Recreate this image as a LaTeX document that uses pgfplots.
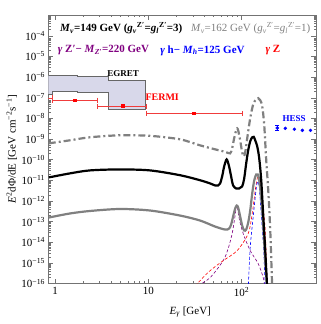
\documentclass[border=0pt]{standalone}
\usepackage{fontspec}
\setmainfont{Liberation Serif}
\usepackage{pgfplots}
\pgfplotsset{compat=1.18}
\definecolor{egret}{RGB}{216,216,234}
\definecolor{zpur}{RGB}{128,0,128}
\definecolor{fermi}{RGB}{240,60,60}
\begin{document}
\begin{tikzpicture}
\begin{axis}[
  at={(0pt,0pt)}, anchor=south west,
  scale only axis, width=267.5pt, height=268.5pt,
  xmode=log, ymode=log,
  xmin=0.85, xmax=630, ymin=1e-16, ymax=1e-3,
  xtickten={0,1,2}, xticklabels={1,10,10\textsuperscript{2}},
  ytickten={-16,-15,-14,-13,-12,-11,-10,-9,-8,-7,-6,-5,-4,-3},
  yticklabels={10\textsuperscript{−16},10\textsuperscript{−15},10\textsuperscript{−14},10\textsuperscript{−13},10\textsuperscript{−12},10\textsuperscript{−11},10\textsuperscript{−10},10\textsuperscript{−9},10\textsuperscript{−8},10\textsuperscript{−7},10\textsuperscript{−6},10\textsuperscript{−5},10\textsuperscript{−4},{}},
  tick label style={font=\fontsize{11}{12}\selectfont, black},
  axis line style={black!55},
  tick style={black!55},
  major tick length=5pt, minor tick length=2.5pt,
  xlabel={\textit{E}\textsubscript{\textit{γ}} [GeV]},
  ylabel={\textit{E}\textsuperscript{2}dΦ/dE [GeV cm\textsuperscript{−2}s\textsuperscript{−1}]},
  label style={font=\fontsize{11}{12}\selectfont},
  xlabel style={at={(axis description cs:0.53,-0.106)},anchor=center},
  ylabel style={at={(axis description cs:-0.137,0.5)},anchor=center},
  clip=true,
]
% EGRET band
\addplot[fill=egret, draw=black!60, line width=0.8pt] coordinates {
 (0.80,1.22e-6) (1.75,1.22e-6) (1.75,1.1e-6) (3.7,1.1e-6) (3.7,7.0e-7) (9.2,7.0e-7)
 (9.2,2.73e-8) (3.7,2.73e-8) (3.7,1.77e-7) (1.75,1.77e-7) (1.75,2.1e-7) (0.93,2.1e-7)
 (0.93,1.5e-7) (0.80,1.5e-7)} -- cycle;
% FERMI
\addplot[fermi, line width=0.6pt, mark=|, mark size=2.5pt, mark options={solid}] coordinates {(0.6,9.66e-8) (0.944,9.66e-8)};
\addplot[fermi, line width=0.6pt, mark=|, mark size=2.5pt] coordinates {(0.944,7.48e-8) (2.83,7.48e-8)};
\addplot[fermi, line width=0.6pt, mark=|, mark size=2.5pt] coordinates {(2.83,3.9e-8) (9.6,3.9e-8)};
\addplot[fermi, line width=0.6pt, mark=|, mark size=2.5pt] coordinates {(9.6,1.75e-8) (102,1.75e-8)};
\addplot[only marks, red, mark=square*, mark size=1.4pt] coordinates {(1.63,7.48e-8) (5.36,3.9e-8) (31,1.75e-8)};
% HESS
\addplot[blue, line width=0.8pt, mark=-, mark size=1.8pt] coordinates {(242,4.6e-9) (242,2.5e-9)};
\addplot[only marks, blue, mark=*, mark size=1.5pt] coordinates {(242,3.38e-9) (295,3.27e-9) (369,2.95e-9) (450,2.6e-9) (550,2.6e-9) (650,2.4e-9)};
% component dashed lines
\addplot[zpur, line width=0.6pt, dash pattern=on 3pt off 2pt, smooth, tension=0.5] coordinates {
 (34.2,8e-17) (46.0,1.91e-16) (63.6,1.28e-15) (71.9,4.89e-15) (79.4,2.61e-14) (84.5,1.40e-13)
 (89.2,5.98e-13) (94.4,1.40e-13) (104.3,2.61e-14) (124.0,3.91e-15) (151.2,9.14e-16) (171.1,1.91e-16) (179.8,5e-17)};
\addplot[red, line width=0.6pt, dash pattern=on 3pt off 2pt, smooth, tension=0.5] coordinates {
 (29.5,5e-17) (35.9,1.37e-16) (46.0,4.18e-16) (63.6,1.28e-15) (89.8,3.91e-15) (118.0,2.61e-14)
 (130.3,2.45e-13) (140.3,3.2e-12) (147.5,1.22e-11) (153.1,1.53e-11) (158.9,7.82e-12) (166.9,1.04e-12) (179.8,3.66e-14) (188.9,5e-17)};
\addplot[blue, line width=0.6pt, dash pattern=on 3pt off 2pt, smooth, tension=0.5] coordinates {
 (118.0,5e-17) (124.0,5.47e-15) (134.6,2.45e-13) (143.9,4.0e-12) (149.4,8.75e-12) (155.0,5.0e-12)
 (158.9,1.04e-12) (172.5,5.47e-15) (179.8,5e-17)};
% gray solid (M=162)
\addplot[black!50, line width=2.2pt, smooth, tension=0.5] coordinates {
 (0.856,1.56e-13) (1.439,2.45e-13) (2.361,3.24e-13) (4.96,4.05e-13) (10.43,3.42e-13) (21.9,1.95e-13)
 (35.9,1.12e-13) (52.1,5.71e-14) (66.8,4.09e-14) (73.6,4.57e-14) (77.4,7.14e-14) (81.3,1.75e-13)
 (85.5,4.28e-13) (88.8,5.98e-13) (92.1,4.78e-13) (96.8,1.75e-13) (101.7,6.4e-14) (106.9,3.66e-14)
 (112.3,4.09e-14) (118.0,8.94e-14) (124.0,3.42e-13) (130.3,2.29e-12) (136.9,9.77e-12) (143.9,1.91e-11)
 (149.4,1.91e-11) (155.0,9.77e-12) (162.9,1.31e-12) (171.1,6.4e-14) (179.8,1.28e-15) (188.9,5e-17)};
% black solid (M=149)
\addplot[black, line width=2.2pt, smooth, tension=0.5] coordinates {
 (0.856,1.37e-11) (1.439,2.14e-11) (2.361,2.99e-11) (4.96,3.34e-11) (10.43,2.99e-11) (21.9,1.75e-11)
 (35.9,1.0e-11) (46.0,7.0e-12) (52.1,5.59e-12) (56.2,5.59e-12) (59.0,7.0e-12) (62.0,1.53e-11)
 (65.2,4.68e-11) (69.3,1.02e-10) (73.6,4.68e-11) (77.4,1.53e-11) (81.3,5.59e-12) (87.6,4.0e-12)
 (94.4,4.0e-12) (101.7,5.0e-12) (106.9,1.22e-11) (112.3,6.55e-11) (118.0,2.8e-10) (124.0,7.64e-10)
 (130.3,1.2e-9) (135.2,1.26e-9) (140.3,8.56e-10) (147.5,4.37e-10) (155.0,1.14e-10) (162.9,9.77e-12)
 (171.1,1.95e-13) (179.8,3.91e-15) (188.9,5e-17)};
% gray dot-dashed
\addplot[black!50, line width=2.2pt, dash pattern=on 7pt off 3pt on 2pt off 3pt, smooth, tension=0.5] coordinates {
 (0.856,6.11e-10) (1.439,8.56e-10) (2.361,1.2e-9) (4.96,1.5e-9) (10.43,1.41e-9) (21.9,9.57e-10)
 (35.9,4.89e-10) (52.1,3.13e-10) (66.8,2.37e-10) (75.5,2.0e-10) (79.4,3.5e-10) (83.4,1.07e-9)
 (87.6,2.61e-9) (89.8,3.27e-9) (92.1,2.61e-9) (96.8,8.56e-10) (101.7,2.24e-10) (105.6,1.43e-10)
 (109.6,2.24e-10) (115.2,1.07e-9) (124.0,1.0e-8) (133.6,4.78e-8) (143.9,8.36e-8) (151.2,9.35e-8)
 (158.9,7.48e-8) (166.9,3.83e-8) (175.4,4.57e-9) (184.3,9.14e-11) (193.7,3.2e-12) (203.5,3.66e-14) (213.8,5e-17)};
% labels
\node[anchor=west, font=\fontsize{11}{13}\selectfont\bfseries] at (rel axis cs:0.030,0.950)
 {\textit{M}\textsubscript{\textit{ν}}=149 GeV (\textit{g}\textsubscript{\textit{ν}}\textsuperscript{Z′}=\textit{g}\textsubscript{\textit{l}}\textsuperscript{Z′}=3)};
\node[anchor=west, black!50, font=\fontsize{11}{13}\selectfont] at (rel axis cs:0.520,0.950)
 {\textit{M}\textsubscript{\textit{ν}}=162 GeV (\textit{g}\textsubscript{\textit{ν}}\textsuperscript{Z′}=\textit{g}\textsubscript{\textit{l}}\textsuperscript{Z′}=1)};
\node[anchor=west, zpur, font=\fontsize{11}{13}\selectfont\bfseries] at (rel axis cs:0.022,0.868)
 {\textit{γ} Z′− \textit{M}\textsubscript{\textit{Z′}}=220 GeV};
\node[anchor=west, blue, font=\fontsize{11}{13}\selectfont\bfseries] at (rel axis cs:0.405,0.868)
 {\textit{γ} h− \textit{M}\textsubscript{\textit{h}}=125 GeV};
\node[anchor=west, red, font=\fontsize{11}{13}\selectfont\bfseries] at (rel axis cs:0.798,0.868)
 {\textit{γ} Z};
\node[font=\fontsize{9}{10}\selectfont\bfseries] at (rel axis cs:0.279,0.783) {EGRET};
\node[red, font=\fontsize{10}{11}\selectfont\bfseries] at (rel axis cs:0.425,0.692) {FERMI};
\node[blue, font=\fontsize{9}{10}\selectfont\bfseries] at (rel axis cs:0.918,0.613) {HESS};
\end{axis}
\pgfresetboundingbox
\path[use as bounding box] (-48.5pt,-40.5pt) rectangle (272.5pt,283.5pt);
\end{tikzpicture}
\end{document}
